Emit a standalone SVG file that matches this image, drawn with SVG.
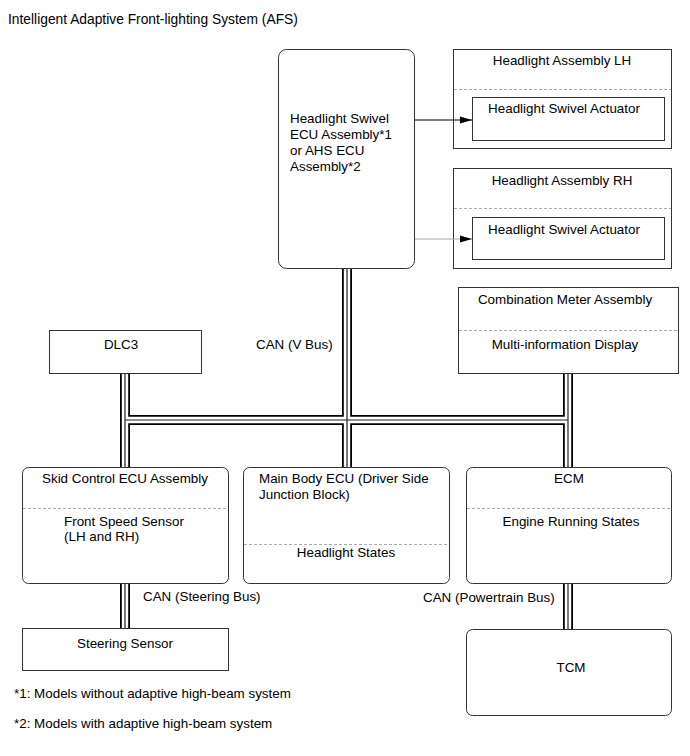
<svg xmlns="http://www.w3.org/2000/svg" width="690" height="756" viewBox="0 0 690 756">
<defs>
<style>
text{font-family:"Liberation Sans",Arial,sans-serif;font-size:13.4px;fill:#000}
.m{text-anchor:middle}
.box{fill:#fff;stroke:#333;stroke-width:1}
.sep{stroke:#aaa;stroke-width:1;stroke-dasharray:3 2;fill:none}
.busO{stroke:#000;stroke-width:10;fill:none}
.busW{stroke:#fff;stroke-width:6.4;fill:none}
.busC{stroke:#222;stroke-width:1.2;fill:none}
</style>
<marker id="ah" markerWidth="12" markerHeight="8" refX="12" refY="4" orient="auto" markerUnits="userSpaceOnUse">
<path d="M0,0.5 L12,4 L0,7.5 z" fill="#000"/>
</marker>
</defs>
<rect width="690" height="756" fill="#fff"/>
<text x="8" y="24" style="font-size:13.8px">Intelligent Adaptive Front-lighting System (AFS)</text>

<g id="ecu-swivel">
<rect class="box" x="278.5" y="49.5" width="136" height="219" rx="8"/>
<text x="290" y="123">Headlight Swivel</text>
<text x="290" y="139">ECU Assembly*1</text>
<text x="290" y="155">or AHS ECU</text>
<text x="290" y="171">Assembly*2</text>
</g>

<g id="headlight-lh">
<rect class="box" x="453.5" y="49.5" width="218" height="99"/>
<line class="sep" x1="454" y1="89.5" x2="671" y2="89.5"/>
<text class="m" x="562" y="65">Headlight Assembly LH</text>
<rect class="box" x="472.5" y="97.5" width="192" height="43"/>
<text class="m" x="564" y="113">Headlight Swivel Actuator</text>
</g>

<g id="headlight-rh">
<rect class="box" x="453.5" y="168.5" width="218" height="100"/>
<line class="sep" x1="454" y1="208.5" x2="671" y2="208.5"/>
<text class="m" x="562" y="185">Headlight Assembly RH</text>
<rect class="box" x="472.5" y="217.5" width="192" height="42"/>
<text class="m" x="564" y="234">Headlight Swivel Actuator</text>
</g>

<g id="combination-meter">
<rect class="box" x="458.5" y="287.5" width="220" height="86"/>
<line class="sep" x1="459" y1="330.5" x2="678" y2="330.5"/>
<text class="m" x="565" y="304">Combination Meter Assembly</text>
<text class="m" x="565" y="349">Multi-information Display</text>
</g>

<g id="dlc3">
<rect class="box" x="49.5" y="330.5" width="152" height="43"/>
<text class="m" x="121" y="349">DLC3</text>
</g>

<g id="skid-control">
<rect class="box" x="22.5" y="467.5" width="206" height="116" rx="6"/>
<line class="sep" x1="23" y1="508.5" x2="228" y2="508.5"/>
<text class="m" x="125" y="483">Skid Control ECU Assembly</text>
<text x="64" y="526">Front Speed Sensor</text>
<text x="64" y="541">(LH and RH)</text>
</g>

<g id="main-body">
<rect class="box" x="243.5" y="467.5" width="206" height="116" rx="6"/>
<line class="sep" x1="244" y1="544.5" x2="449" y2="544.5"/>
<text x="259" y="483">Main Body ECU (Driver Side</text>
<text x="259" y="499">Junction Block)</text>
<text class="m" x="346" y="557">Headlight States</text>
</g>

<g id="ecm">
<rect class="box" x="466.5" y="467.5" width="205" height="116" rx="6"/>
<line class="sep" x1="467" y1="508.5" x2="671" y2="508.5"/>
<text class="m" x="569" y="483">ECM</text>
<text class="m" x="571" y="526">Engine Running States</text>
</g>

<g id="steering-sensor">
<rect class="box" x="22.5" y="628.5" width="206" height="42"/>
<text class="m" x="125" y="648">Steering Sensor</text>
</g>

<g id="tcm">
<rect class="box" x="466.5" y="629.5" width="205" height="86" rx="6"/>
<text class="m" x="571" y="672">TCM</text>
</g>

<g id="connectors">
<g id="bus">
<path class="busO" d="M347,269 V467 M125,374 V467 M568,374 V467 M125,420 H568 M125,584 V628 M568,584 V629"/>
<path class="busW" d="M347,269 V467 M125,374 V467 M568,374 V467 M125,420 H568 M125,584 V628 M568,584 V629"/>
<path class="busC" d="M347,269 V467 M125,374 V467 M568,374 V467 M125,420 H568 M125,584 V628 M568,584 V629"/>
</g>
<line x1="415" y1="120" x2="472" y2="120" stroke="#000" stroke-width="1" marker-end="url(#ah)"/>
<line x1="415" y1="239" x2="472" y2="239" stroke="#aaa" stroke-width="1" marker-end="url(#ah)"/>
<text x="256" y="349">CAN (V Bus)</text>
<text x="143" y="601">CAN (Steering Bus)</text>
<text x="423" y="602">CAN (Powertrain Bus)</text>
</g>

<text x="14" y="698">*1: Models without adaptive high-beam system</text>
<text x="14" y="728">*2: Models with adaptive high-beam system</text>
</svg>
